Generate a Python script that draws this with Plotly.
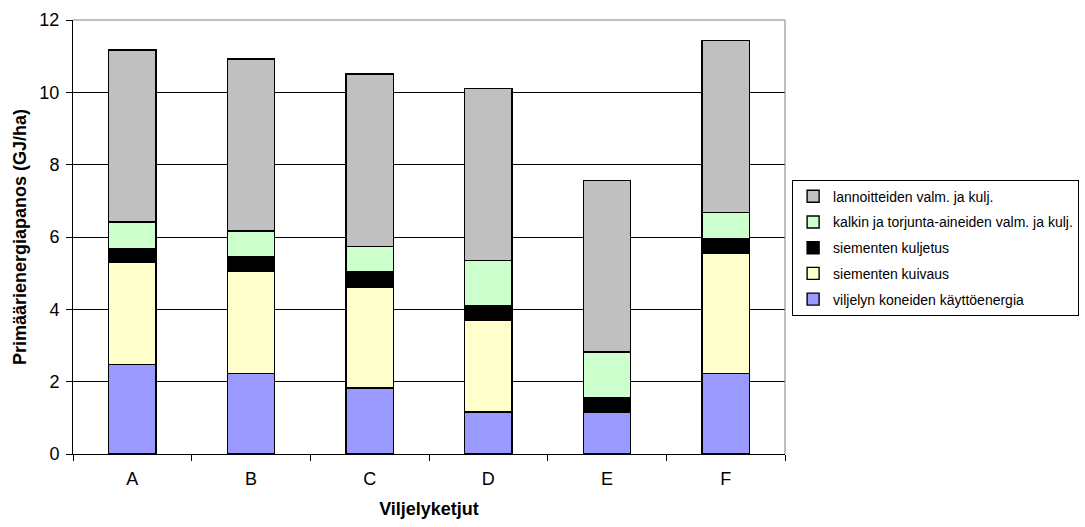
import plotly.graph_objects as go

categories = ["A", "B", "C", "D", "E", "F"]
koneet = [2.47, 2.22, 1.82, 1.16, 1.15, 2.22]
kuivaus = [2.82, 2.82, 2.80, 2.53, 0.0, 3.33]
kuljetus = [0.40, 0.42, 0.42, 0.42, 0.41, 0.41]
kalkki = [0.72, 0.71, 0.70, 1.24, 1.26, 0.72]
lannoite = [4.76, 4.75, 4.77, 4.75, 4.74, 4.75]

series = [
    ("viljelyn koneiden käyttöenergia", koneet, "#9999FF"),
    ("siementen kuivaus", kuivaus, "#FFFFCC"),
    ("siementen kuljetus", kuljetus, "#000000"),
    ("kalkin ja torjunta-aineiden valm. ja kulj.", kalkki, "#CCFFCC"),
    ("lannoitteiden valm. ja kulj.", lannoite, "#C0C0C0"),
]

fig = go.Figure()
n = len(series)
for i, (name, vals, col) in enumerate(series):
    fig.add_trace(go.Bar(
        x=categories, y=vals, name=name, legendgroup=str(i),
        legendrank=n - i,
        marker=dict(color=col, line=dict(color="#000000", width=1.4)),
        width=0.4,
    ))

fnt = "Liberation Sans, Arial, sans-serif"
fig.update_layout(
    barmode="stack",
    width=1085, height=527,
    margin=dict(l=73, r=300, t=20, b=73, autoexpand=False),
    paper_bgcolor="white", plot_bgcolor="white",
    font=dict(family=fnt, size=18, color="#000000"),
    showlegend=True,
    legend=dict(
        x=1.01, y=0.632, xanchor="left", yanchor="top",
        traceorder="grouped", tracegroupgap=4.5,
        bordercolor="#000000", borderwidth=1,
        font=dict(family=fnt, size=14, color="#000000"),
        bgcolor="white",
    ),
    xaxis=dict(
        title=dict(text="<b>Viljelyketjut</b>", font=dict(size=18), standoff=14),
        showline=True, linecolor="#000000", linewidth=1,
        ticks="outside", tickson="boundaries", ticklen=6, tickcolor="#000000",
        showgrid=False, tickfont=dict(size=18), ticklabelstandoff=8,
    ),
    yaxis=dict(
        title=dict(text="<b>Primäärienergiapanos (GJ/ha)</b>", font=dict(size=18), standoff=8),
        range=[0, 12], dtick=2,
        showline=True, linecolor="#000000", linewidth=1,
        ticks="outside", ticklen=6, tickcolor="#000000",
        showgrid=True, gridcolor="#000000", gridwidth=1,
        zeroline=False, tickfont=dict(size=18), ticklabelstandoff=3,
    ),
    shapes=[
        dict(type="line", xref="paper", yref="paper", x0=0, x1=1, y0=1, y1=1,
             line=dict(color="#808080", width=1)),
        dict(type="line", xref="paper", yref="paper", x0=1, x1=1, y0=0, y1=1,
             line=dict(color="#808080", width=1)),
    ],
)

fig.write_html("out.html")
